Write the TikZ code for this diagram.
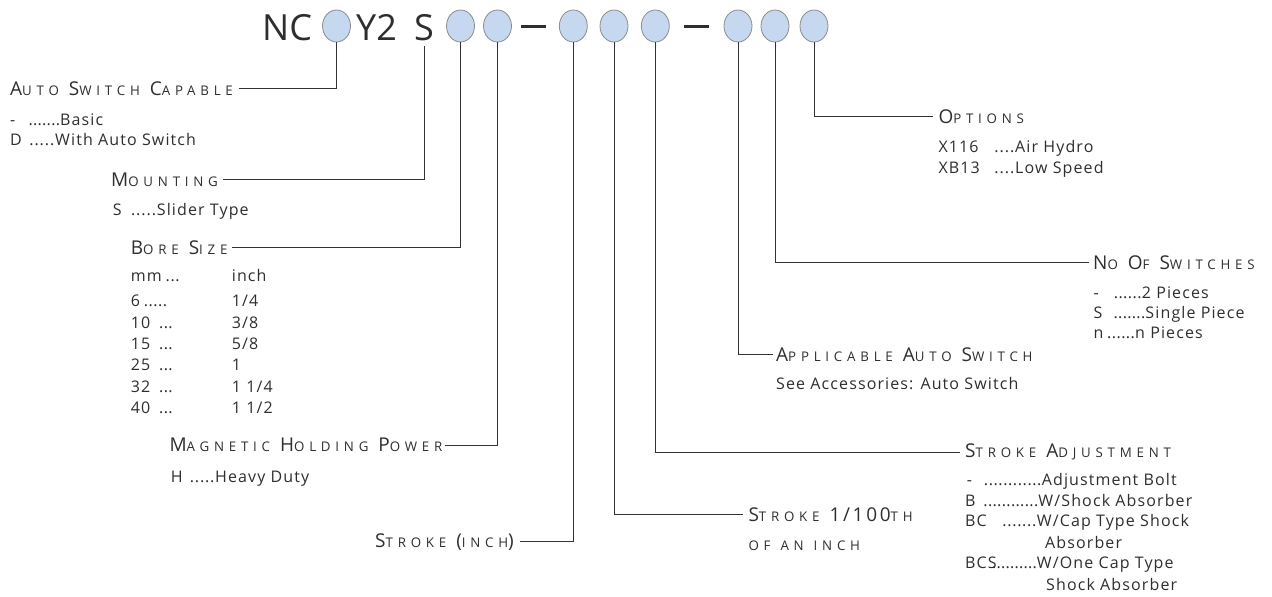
\documentclass[tikz,border=0pt]{standalone}
\usepackage{fontspec}
\setmainfont{Open Sans}
\newfontfamily\bodyf[LetterSpace=7]{Open Sans}
\newfontfamily\ttlbig[LetterSpace=14]{Open Sans}
\newfontfamily\ttlsm[LetterSpace=36]{Open Sans}
\usetikzlibrary{shapes.geometric}
\definecolor{txt}{HTML}{2E2E2E}
\definecolor{linec}{HTML}{333333}
\definecolor{bubfill}{HTML}{C6D7F0}
\definecolor{bubline}{HTML}{8C8C8C}
\newcommand\Bg[1]{{\ttlbig\fontsize{19}{20}\selectfont #1}}
\newcommand\Sm[1]{{\ttlsm\fontsize{13.3}{14}\selectfont #1}}
\newcommand\mygap{\hspace*{10pt}}
\newcommand\dts{\xleaders\hbox to 4.5pt{\hss.\hss}\hfill}
\newcommand\row[3]{\makebox[#1][l]{#2}\makebox[#3][l]{\dts}}
\begin{document}
\begin{tikzpicture}[x=1pt,y=-1pt,
  hdr/.style={anchor=base west,inner sep=0pt,text=txt,font=\fontsize{36}{40}\selectfont},
  bub/.style={ellipse,draw=bubline,fill=bubfill,line width=0.8pt,minimum width=28pt,minimum height=32pt,inner sep=0pt},
  dashbar/.style={rectangle,fill=txt,inner sep=0pt,minimum width=25pt,minimum height=2.6pt},
  ttl/.style={anchor=base west,inner sep=0pt,text=txt,font=\ttlsm\fontsize{13.3}{18}\selectfont},
  body/.style={anchor=base west,inner sep=0pt,text=txt,font=\bodyf\fontsize{16}{19}\selectfont},
  conn/.style={draw=linec,line width=0.9pt}]
\useasboundingbox (0,0) rectangle (1272,597);
% header
\node[hdr] (nc) at (262,40.7) {NC};
\node[bub] (c1) at (336.5,26) {};
\node[hdr] (y2) at (356,40.7) {Y2};
\node[hdr] (s) at (414,40.7) {S};
\node[bub] (c2) at (460.5,26) {};
\node[bub] (c3) at (497.5,26) {};
\node[dashbar] (d1) at (533.2,26.5) {};
\node[bub] (c4) at (573.3,26) {};
\node[bub] (c5) at (614,26) {};
\node[bub] (c6) at (655.3,26) {};
\node[dashbar] (d2) at (696.2,26.5) {};
\node[bub] (c7) at (738,26) {};
\node[bub] (c8) at (775,26) {};
\node[bub] (c9) at (814,26) {};
% titles
\node[ttl] (asc) at (10,95) {\Bg{A}\Sm{UTO}\mygap\Bg{S}\Sm{WITCH}\mygap\Bg{C}\Sm{APABLE}};
\node[ttl] (mnt) at (111,186) {\Bg{M}\Sm{OUNTING}};
\node[ttl] (bore) at (130.7,254) {\Bg{B}\Sm{ORE}\mygap\Bg{S}\Sm{IZE}};
\node[ttl] (mag) at (169.3,451.7) {\Bg{M}\Sm{AGNETIC}\mygap\Bg{H}\Sm{OLDING}\mygap\Bg{P}\Sm{OWER}};
\node[ttl] (strin) at (375,547) {\Bg{S}\Sm{TROKE}\mygap\Bg{(}\Sm{INCH}\Bg{)}};
\node[ttl] (strh) at (748.3,521.7) {\Bg{S}\Sm{TROKE}\mygap\Bg{1/100}\Sm{TH}};
\node[ttl] (ofan) at (748.3,550) {\Sm{OF}\mygap\Sm{AN}\mygap\Sm{INCH}};
\node[ttl] (stradj) at (965,457.7) {\Bg{S}\Sm{TROKE}\mygap\Bg{A}\Sm{DJUSTMENT}};
\node[ttl] (appl) at (776,361.7) {\Bg{A}\Sm{PPLICABLE}\mygap\Bg{A}\Sm{UTO}\mygap\Bg{S}\Sm{WITCH}};
\node[ttl] (nosw) at (1093,269.3) {\Bg{N}\Sm{O}\mygap\Bg{O}\Sm{F}\mygap\Bg{S}\Sm{WITCHES}};
\node[ttl] (opt) at (938.3,123.3) {\Bg{O}\Sm{PTIONS}};
% body texts
\node[body] (asc1) at (10,125) {\row{18.3pt}{-}{31.7pt}Basic};
\node[body] (asc2) at (10,145) {\row{18.3pt}{D}{26.7pt}With Auto Switch};
\node[body] (mnt1) at (112.7,215) {\row{17.3pt}{S}{26.7pt}Slider Type};
\node[body] (b0) at (130.7,281) {\makebox[101pt][l]{\row{34.3pt}{mm}{15pt}}inch};
\node[body] (b1) at (130.7,306.7) {\makebox[101pt][l]{\row{12.5pt}{6}{24pt}}1/4};
\node[body] (b2) at (130.7,328.3) {\makebox[101pt][l]{\row{28pt}{10}{14pt}}3/8};
\node[body] (b3) at (130.7,349.3) {\makebox[101pt][l]{\row{28pt}{15}{14pt}}5/8};
\node[body] (b4) at (130.7,370.7) {\makebox[101pt][l]{\row{28pt}{25}{14pt}}1};
\node[body] (b5) at (130.7,392.3) {\makebox[101pt][l]{\row{28pt}{32}{14pt}}1 1/4};
\node[body] (b6) at (130.7,413.3) {\makebox[101pt][l]{\row{28pt}{40}{14pt}}1 1/2};
\node[body] (mag1) at (170.7,482) {\row{18.3pt}{H}{26pt}Heavy Duty};
\node[body] (opt1) at (938.3,152.3) {\row{55pt}{X116}{21.7pt}Air Hydro};
\node[body] (opt2) at (938.3,173.3) {\row{55pt}{XB13}{21.7pt}Low Speed};
\node[body] (nsw1) at (1093.3,298) {\row{20pt}{-}{28.4pt}2 Pieces};
\node[body] (nsw2) at (1093.3,318) {\row{20pt}{S}{32pt}Single Piece};
\node[body] (nsw3) at (1093.3,338.3) {\row{13.4pt}{n}{28.3pt}n Pieces};
\node[body] (appl1) at (776,389.3) {See Accessories: Auto Switch};
\node[body] (sa1) at (965,485) {\row{18.3pt}{\hspace{1.7pt}-}{58.4pt}Adjustment Bolt};
\node[body] (sa2) at (965,506) {\row{18pt}{B}{55.3pt}W/Shock Absorber};
\node[body] (sa3) at (965,526.7) {\row{36.7pt}{BC}{35pt}W/Cap Type Shock};
\node[body] (sa4) at (1045,548.3) {Absorber};
\node[body] (sa5) at (965,568.3) {\row{26.7pt}{BCS}{45pt}W/One Cap Type};
\node[body] (sa6) at (1046,590) {Shock Absorber};
% connectors
\draw[conn] (c1.south) |- ([xshift=6pt]asc.east);
\draw[conn] ([yshift=-5pt]s.south) |- ([xshift=5pt]mnt.east);
\draw[conn] (c2.south) |- ([xshift=4pt]bore.east);
\draw[conn] (c3.south) |- ([xshift=2pt]mag.east);
\draw[conn] (c4.south) |- ([xshift=6pt]strin.east);
\draw[conn] (c5.south) |- ([xshift=-5pt]strh.west);
\draw[conn] (c6.south) |- ([xshift=-5pt]stradj.west);
\draw[conn] (c7.south) |- ([xshift=-3pt]appl.west);
\draw[conn] (c8.south) |- ([xshift=-4pt]nosw.west);
\draw[conn] (c9.south) |- ([xshift=-5pt]opt.west);
\end{tikzpicture}
\end{document}
